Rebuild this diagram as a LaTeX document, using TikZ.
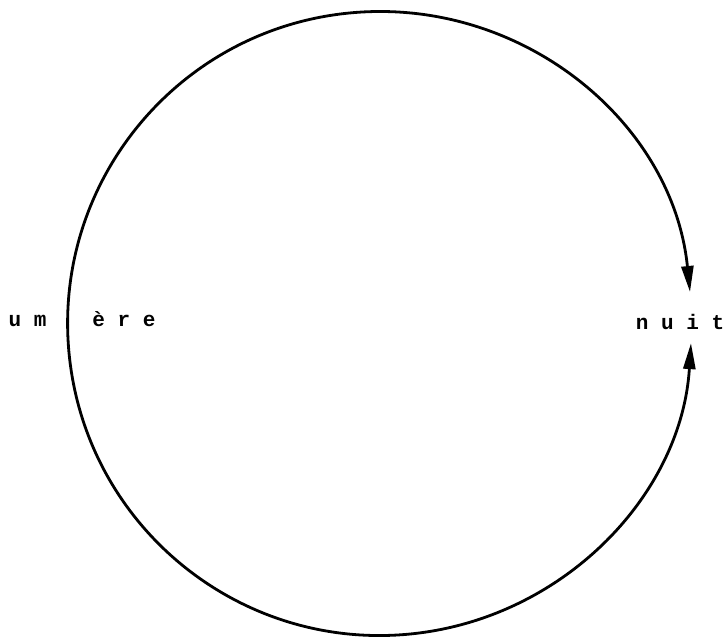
\documentclass[tikz,border=0pt]{standalone}
\usepackage{fontspec}
\newfontfamily\typew{Liberation Mono}
\usetikzlibrary{arrows.meta}
\tikzset{
  lbl/.style={font=\typew\bfseries\fontsize{21}{24}\selectfont, inner sep=0pt, anchor=base},
  ring/.style={line width=2.8pt, {Triangle[length=26pt,width=12pt]}-{Triangle[length=26pt,width=12pt]}}
}
\begin{document}
\begin{tikzpicture}[x=1pt,y=1pt]
\useasboundingbox (0,0) rectangle (725,639);
\node[lbl] (nuit) at (680,309) {n u i t};
\node[lbl] (um) at (27.5,312) {u m};
\node[lbl] (ere) at (124,312) {è r e};
\coordinate (tA) at (690,347);
\draw[ring] (tA) arc[start angle=5.8, end angle=356.4, radius=312];
\end{tikzpicture}
\end{document}
